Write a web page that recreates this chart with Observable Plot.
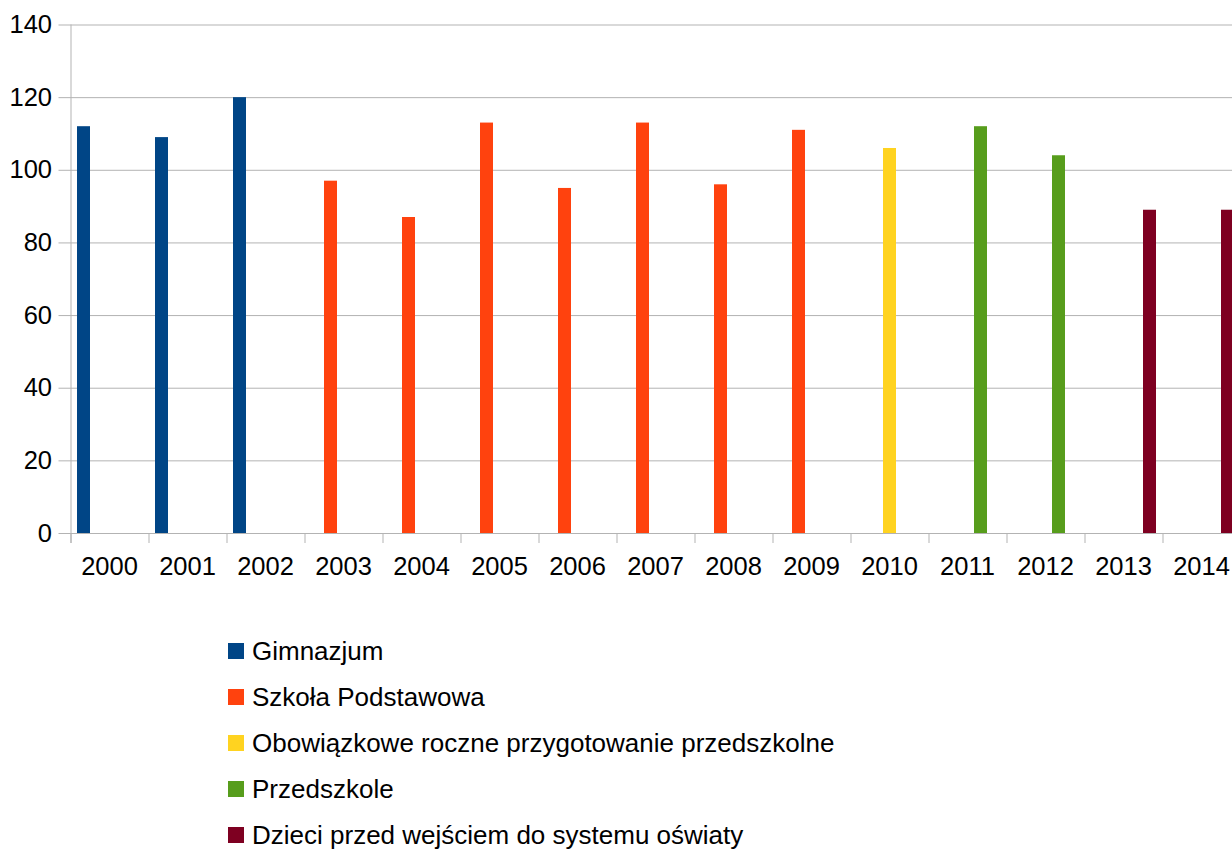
<!DOCTYPE html>
<html>
<head>
<meta charset="utf-8">
<script src="https://cdn.jsdelivr.net/npm/d3@7"></script>
<script src="https://cdn.jsdelivr.net/npm/@observablehq/plot@0.6"></script>
<style>
  html, body { margin: 0; padding: 0; background: #fff; overflow: hidden; }
  body { font-family: "Liberation Sans", Arial, sans-serif; width: 1232px; height: 850px; }
  #chart { width: 1240px; height: 600px; overflow: visible; }
  #chart svg { display: block; max-width: none !important; width: 1240px !important; height: 600px !important; }
  #legend { margin-left: 228px; margin-top: 28px; }
  .item { height: 46px; display: flex; align-items: center; font-size: 26px; color: #000; }
  .sw { width: 15.5px; height: 15.5px; margin-right: 8.5px; flex: none; }
</style>
</head>
<body>
<div id="chart"></div>
<div id="legend"></div>
<script>
const years = ["2000","2001","2002","2003","2004","2005","2006","2007","2008","2009","2010","2011","2012","2013","2014"];
const series = ["Gimnazjum","Szkoła Podstawowa","Obowiązkowe roczne przygotowanie przedszkolne","Przedszkole","Dzieci przed wejściem do systemu oświaty"];
const colors = ["#004586","#ff420e","#ffd320","#579d1c","#7e0021"];
const yearSeries = ["Gimnazjum","Gimnazjum","Gimnazjum","Szkoła Podstawowa","Szkoła Podstawowa","Szkoła Podstawowa","Szkoła Podstawowa","Szkoła Podstawowa","Szkoła Podstawowa","Szkoła Podstawowa","Obowiązkowe roczne przygotowanie przedszkolne","Przedszkole","Przedszkole","Dzieci przed wejściem do systemu oświaty","Dzieci przed wejściem do systemu oświaty"];
const values = [112,109,120,97,87,113,95,113,96,111,106,112,104,89,89];
const yTicks = [0,20,40,60,80,100,120,140];

const data = years.map((y, i) => ({year: y, series: yearSeries[i], value: values[i]}));
const grid = "#b3b3b3";

const chart = Plot.plot({
  width: 1240,
  height: 600,
  marginLeft: 70,
  marginRight: 0,
  marginTop: 24.5,
  marginBottom: 67,
  style: {fontFamily: "Liberation Sans, Arial, sans-serif", color: "#000", background: "#fff", overflow: "visible", maxWidth: "none"},
  fx: {domain: years, padding: 0, label: null},
  x: {domain: series, paddingInner: 0, paddingOuter: 0.5, axis: null},
  y: {domain: [0, 140], label: null},
  color: {domain: series, range: colors},
  marks: [
    Plot.ruleY(yTicks, {stroke: grid, strokeWidth: 1}),
    Plot.axisY(yTicks, {tickSize: 11.5, tickPadding: 7, stroke: grid, fill: "#000", fontSize: 25.5, label: null}),
    Plot.axisFx({anchor: "bottom", tickSize: 0, tickPadding: 23, fontSize: 25.5, label: null, fill: "#000"}),
    Plot.ruleX(years, {fx: d => d, x: () => series[0], dx: -13, stroke: grid, insetTop: 508.5, insetBottom: -10}),
    Plot.ruleX(years.slice(0, 1), {fx: d => d, x: () => series[0], dx: -13, stroke: grid, insetBottom: -10}),
    Plot.barY(data, {fx: "year", x: "series", y: "value", fill: "series"})
  ]
});
document.getElementById("chart").appendChild(chart);

const legend = document.getElementById("legend");
series.forEach((s, i) => {
  const it = document.createElement("div");
  it.className = "item";
  const sw = document.createElement("span");
  sw.className = "sw";
  sw.style.background = colors[i];
  const t = document.createElement("span");
  t.textContent = s;
  it.appendChild(sw);
  it.appendChild(t);
  legend.appendChild(it);
});
</script>
</body>
</html>
